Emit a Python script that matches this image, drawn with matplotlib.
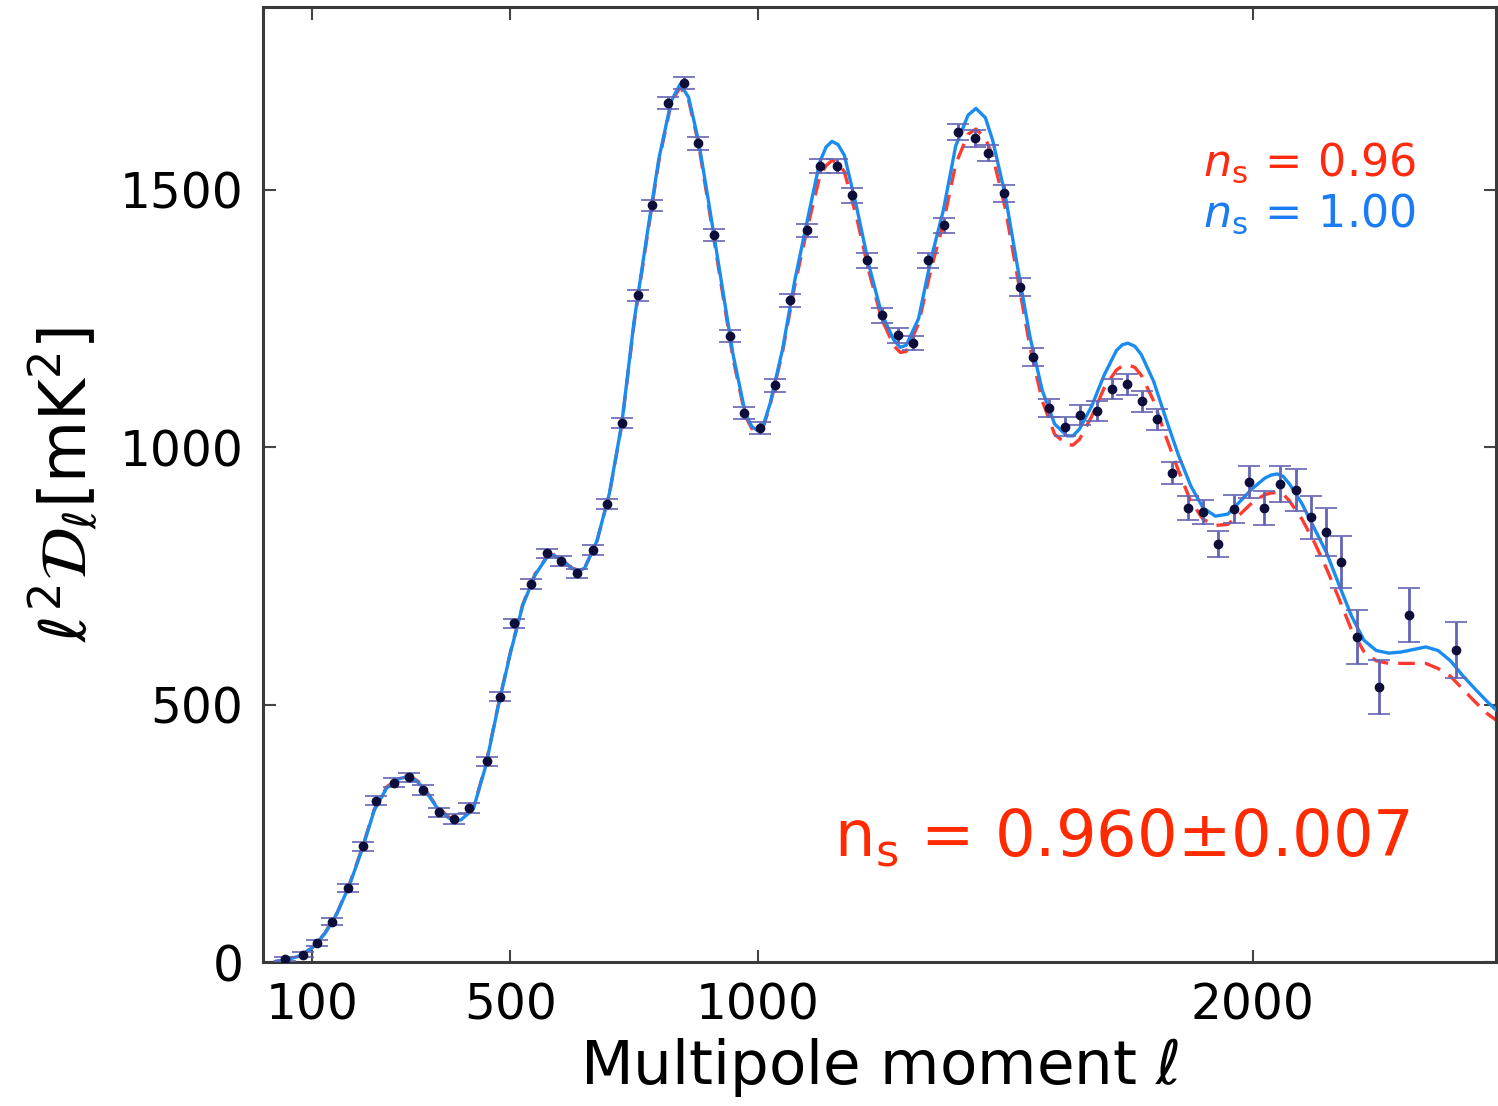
import matplotlib.pyplot as plt

plt.rcParams['mathtext.fontset'] = 'dejavusans'

# theory curves (multipole, D_ell)
ell_curve = [25, 50, 75, 100, 125, 150, 175, 200, 225, 250,
             275, 288, 300, 312, 325, 350, 375, 388, 400, 425,
             450, 475, 500, 525, 550, 575, 588, 600, 625, 638,
             650, 675, 700, 725, 750, 775, 800, 825, 843, 860,
             880, 900, 925, 950, 975, 988, 1000, 1012, 1025, 1050,
             1075, 1100, 1125, 1138, 1150, 1162, 1175, 1200, 1225, 1250,
             1275, 1288, 1300, 1325, 1350, 1375, 1400, 1425, 1441, 1460,
             1475, 1500, 1525, 1550, 1575, 1600, 1625, 1637, 1650, 1675,
             1700, 1725, 1737, 1748, 1762, 1775, 1800, 1825, 1850, 1875,
             1900, 1925, 1950, 1975, 2000, 2025, 2038, 2050, 2062, 2075,
             2100, 2125, 2150, 2175, 2200, 2225, 2250, 2275, 2300, 2325,
             2350, 2375, 2400, 2425, 2450, 2475, 2492]

cl_ns100 = [1, 5, 12, 28, 55, 95, 150, 218, 295, 338,
            356, 359, 357, 350, 337, 302, 280, 274, 276, 297,
            380, 495, 600, 693, 752, 788, 790, 783, 764, 760,
            765, 818, 910, 1045, 1245, 1405, 1560, 1672, 1705, 1680,
            1596, 1480, 1330, 1180, 1065, 1040, 1032, 1045, 1085, 1190,
            1325, 1440, 1553, 1583, 1594, 1588, 1567, 1465, 1352, 1260,
            1208, 1194, 1198, 1250, 1365, 1460, 1585, 1645, 1658, 1640,
            1595, 1490, 1350, 1215, 1110, 1045, 1022, 1022, 1035, 1080,
            1140, 1188, 1199, 1202, 1196, 1180, 1128, 1055, 985, 925,
            882, 866, 870, 895, 920, 940, 946, 948, 943, 928,
            890, 842, 794, 732, 672, 625, 605, 600, 602, 607,
            612, 605, 585, 556, 530, 505, 490]

cl_ns096 = [1, 5, 12, 28, 56, 96, 152, 220, 297, 340,
            358, 361, 359, 352, 339, 304, 282, 276, 278, 299,
            382, 497, 602, 695, 754, 789, 791, 784, 765, 761,
            765, 818, 908, 1043, 1240, 1400, 1555, 1668, 1700, 1675,
            1590, 1472, 1322, 1172, 1060, 1036, 1030, 1042, 1082, 1185,
            1315, 1425, 1525, 1547, 1557, 1552, 1535, 1445, 1340, 1250,
            1197, 1184, 1186, 1240, 1345, 1435, 1550, 1608, 1618, 1600,
            1565, 1465, 1330, 1195, 1090, 1025, 1005, 1004, 1015, 1060,
            1115, 1150, 1158, 1160, 1155, 1140, 1090, 1020, 955, 895,
            860, 848, 850, 870, 893, 908, 911, 912, 909, 895,
            860, 815, 763, 705, 645, 603, 585, 580, 580, 580,
            580, 570, 555, 530, 505, 482, 470]

# binned data points
ell_data = [45, 80, 110, 140, 171, 203, 229, 264, 296, 324, 355, 387, 417, 452, 480,
            508, 542, 573, 603, 635, 666, 696, 726, 757, 787, 819, 850, 880, 912, 944,
            973, 1005, 1035, 1066, 1100, 1126, 1161, 1191, 1221, 1252, 1284, 1314, 1344,
            1377, 1405, 1439, 1466, 1498, 1530, 1557, 1589, 1621, 1652, 1686, 1716, 1746,
            1777, 1807, 1837, 1870, 1900, 1930, 1963, 1993, 2023, 2056, 2088, 2118, 2148,
            2179, 2211, 2255, 2316, 2411]
cl_data = [6, 14, 37, 78, 144, 225, 313, 348, 359, 334, 291, 278, 299, 390, 515,
           658, 734, 794, 779, 755, 800, 889, 1047, 1295, 1470, 1668, 1707, 1590, 1412, 1216,
           1066, 1037, 1120, 1285, 1421, 1546, 1546, 1489, 1363, 1256, 1217, 1202, 1363,
           1431, 1612, 1600, 1571, 1493, 1311, 1175, 1076, 1040, 1062, 1070, 1113, 1122,
           1089, 1054, 950, 882, 874, 812, 880, 932, 882, 928, 917, 864, 835,
           777, 631, 534, 674, 606]
cl_err = [4, 5, 6, 7, 8, 9, 9, 9, 9, 9, 9, 9, 9, 9, 9,
          9, 9, 9, 9, 9, 10, 10, 10, 11, 11, 12, 12, 12, 12, 12,
          12, 12, 12, 13, 13, 14, 14, 14, 14, 14, 14, 14, 15,
          15, 15, 16, 16, 16, 17, 17, 18, 18, 19, 19, 20, 20,
          20, 20, 21, 24, 24, 26, 28, 31, 33, 35, 41, 42, 47,
          51, 52, 52, 53, 55]

fig = plt.figure(figsize=(14.98, 11.06), dpi=100)
ax = fig.add_axes([263/1498, 1 - 962/1106, (1496 - 263)/1498, (962 - 7)/1106])

ax.plot(ell_curve, cl_ns096, color='#ff3b30', lw=2.4, dashes=(5, 3), zorder=2)
ax.plot(ell_curve, cl_ns100, color='#1a8cf0', lw=2.4, zorder=3)
ax.errorbar(ell_data, cl_data, yerr=cl_err, fmt='o', color='#0d0d3a', ms=6,
            ecolor='#6464b4', elinewidth=2, capsize=8, capthick=1.2, zorder=4)

ax.set_xlim(0, 2492)
ax.set_ylim(0, 1855)
ax.set_xticks([100, 500, 1000, 2000])
ax.set_yticks([0, 500, 1000, 1500])
ax.tick_params(direction='in', top=True, right=True, length=9, width=1.5,
               color='#444444', labelsize=35, pad=14)
for s in ax.spines.values():
    s.set_linewidth(2.2)
    s.set_color('#3a3a3a')

ax.set_xlabel(r'Multipole moment $\ell$', fontsize=44, labelpad=5)
ax.set_ylabel(r'$\ell^2\mathcal{D}_\ell[\mathrm{mK}^2]$', fontsize=46, labelpad=14)

ax.text(0.762, 0.837, r'$n_\mathrm{s}\,=\,0.96$', transform=ax.transAxes,
        color='#ff2a10', fontsize=32, ha='left', va='center')
ax.text(0.762, 0.784, r'$n_\mathrm{s}\,=\,1.00$', transform=ax.transAxes,
        color='#1a7cf5', fontsize=32, ha='left', va='center')
ax.text(0.930, 0.13, 'n$_\\mathrm{s}$ = 0.960±0.007', transform=ax.transAxes,
        color='#ff2a00', fontsize=46, ha='right', va='center')

plt.savefig('out.png', dpi=100)
